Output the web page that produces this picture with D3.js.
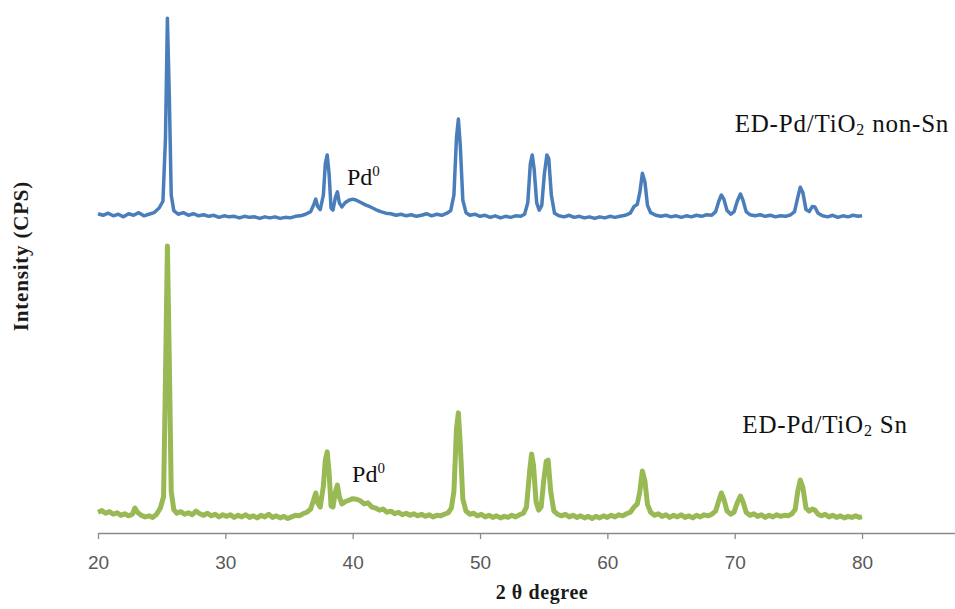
<!DOCTYPE html>
<html>
<head>
<meta charset="utf-8">
<script src="https://cdn.jsdelivr.net/npm/d3@7/dist/d3.min.js"></script>
<style>
  body { margin: 0; background: #ffffff; }
  svg { display: block; }
</style>
</head>
<body>
<div id="wrapper"></div>
<script>
// 2-theta ticks on the bottom axis
const tickValues = [20, 30, 40, 50, 60, 70, 80];

// [2 theta, intensity] (non-Sn)
const nonSnScan = [
  [20.0, 34], [20.4, 31], [20.8, 35], [21.2, 30], [21.6, 33], [22.0, 28], [22.4, 34], [22.8, 31],
  [23.2, 36], [23.6, 30], [24.0, 33], [24.4, 36], [24.8, 45], [25.1, 58], [25.3, 180], [25.45, 410],
  [25.6, 260], [25.75, 70], [25.95, 40], [26.3, 33], [26.7, 36], [27.1, 31], [27.5, 34], [27.9, 30],
  [28.3, 32], [28.7, 29], [29.1, 31], [29.5, 27], [29.9, 30], [30.3, 28], [30.7, 29], [31.1, 26],
  [31.5, 29], [31.9, 27], [32.3, 28], [32.7, 25], [33.1, 28], [33.5, 26], [33.9, 28], [34.3, 25],
  [34.7, 27], [35.1, 26], [35.5, 29], [35.9, 30], [36.3, 33], [36.7, 38], [36.95, 52], [37.1, 62],
  [37.25, 48], [37.45, 42], [37.7, 70], [37.85, 130], [38.0, 147], [38.15, 110], [38.3, 45], [38.45, 41],
  [38.65, 66], [38.8, 76], [38.95, 55], [39.15, 47], [39.4, 55], [39.7, 60], [40.0, 62], [40.3, 60],
  [40.6, 56], [41.0, 51], [41.4, 47], [41.8, 42], [42.2, 38], [42.6, 35], [43.0, 34], [43.4, 31],
  [43.8, 33], [44.2, 30], [44.6, 32], [45.0, 29], [45.4, 31], [45.8, 34], [46.2, 30], [46.6, 33],
  [47.0, 31], [47.4, 35], [47.7, 40], [47.95, 70], [48.15, 180], [48.3, 216], [48.45, 165], [48.65, 60],
  [48.9, 36], [49.2, 31], [49.6, 33], [50.0, 29], [50.4, 31], [50.8, 27], [51.2, 30], [51.6, 26],
  [52.0, 29], [52.4, 27], [52.8, 30], [53.2, 29], [53.5, 33], [53.75, 55], [53.95, 130], [54.1, 147],
  [54.25, 120], [54.45, 55], [54.65, 41], [54.85, 50], [55.05, 110], [55.25, 147], [55.4, 140], [55.6, 70],
  [55.85, 35], [56.2, 30], [56.6, 28], [57.0, 31], [57.4, 27], [57.8, 29], [58.2, 26], [58.6, 28],
  [59.0, 25], [59.4, 28], [59.8, 26], [60.2, 29], [60.6, 27], [61.0, 29], [61.4, 31], [61.8, 35],
  [62.1, 48], [62.35, 52], [62.55, 75], [62.75, 112], [62.95, 95], [63.15, 50], [63.4, 36], [63.8, 31],
  [64.2, 29], [64.6, 31], [65.0, 28], [65.4, 30], [65.8, 27], [66.2, 30], [66.6, 28], [67.0, 31],
  [67.4, 29], [67.8, 32], [68.2, 31], [68.5, 38], [68.75, 58], [68.95, 70], [69.15, 62], [69.4, 40],
  [69.7, 33], [69.95, 38], [70.2, 58], [70.45, 72], [70.65, 60], [70.9, 38], [71.2, 32], [71.6, 30],
  [72.0, 32], [72.4, 29], [72.8, 31], [73.2, 28], [73.6, 30], [74.0, 29], [74.4, 32], [74.7, 38],
  [74.95, 65], [75.15, 85], [75.35, 75], [75.6, 42], [75.85, 38], [76.1, 48], [76.3, 47], [76.55, 35],
  [76.9, 30], [77.3, 28], [77.7, 31], [78.1, 27], [78.5, 30], [78.9, 28], [79.3, 31], [79.7, 29],
  [80.0, 30]
];

// [2 theta, intensity] (Sn)
const snScan = [
  [20.0, 40], [20.3, 43], [20.6, 38], [20.9, 41], [21.2, 36], [21.5, 39], [21.8, 34], [22.1, 37],
  [22.4, 33], [22.7, 36], [22.9, 48], [23.1, 40], [23.4, 34], [23.7, 31], [24.0, 33], [24.3, 30],
  [24.6, 36], [24.9, 48], [25.15, 70], [25.3, 300], [25.45, 552], [25.6, 330], [25.75, 80], [25.95, 45],
  [26.2, 38], [26.5, 41], [26.8, 36], [27.1, 39], [27.4, 35], [27.7, 42], [28.0, 37], [28.3, 34],
  [28.6, 38], [28.9, 33], [29.2, 36], [29.5, 31], [29.8, 35], [30.1, 32], [30.4, 35], [30.7, 30],
  [31.0, 34], [31.3, 31], [31.6, 35], [31.9, 30], [32.2, 33], [32.5, 29], [32.8, 34], [33.1, 31],
  [33.4, 36], [33.7, 30], [34.0, 33], [34.3, 29], [34.6, 32], [34.9, 28], [35.2, 31], [35.5, 34],
  [35.8, 33], [36.1, 37], [36.4, 40], [36.7, 46], [36.95, 65], [37.1, 77], [37.25, 58], [37.45, 50],
  [37.7, 90], [37.85, 140], [38.0, 156], [38.15, 115], [38.3, 52], [38.45, 50], [38.65, 80], [38.8, 92],
  [38.95, 70], [39.15, 56], [39.4, 60], [39.7, 63], [40.0, 66], [40.3, 65], [40.6, 62], [40.9, 56],
  [41.2, 58], [41.5, 50], [41.8, 48], [42.1, 44], [42.4, 46], [42.7, 40], [43.0, 42], [43.3, 37],
  [43.6, 40], [43.9, 35], [44.2, 38], [44.5, 34], [44.8, 37], [45.1, 33], [45.4, 36], [45.7, 32],
  [46.0, 35], [46.3, 31], [46.6, 34], [46.9, 33], [47.2, 36], [47.5, 39], [47.75, 48], [47.95, 80],
  [48.15, 200], [48.3, 231], [48.45, 170], [48.65, 65], [48.9, 42], [49.2, 36], [49.5, 38], [49.8, 33],
  [50.1, 36], [50.4, 31], [50.7, 34], [51.0, 30], [51.3, 33], [51.6, 29], [51.9, 32], [52.2, 30],
  [52.5, 34], [52.8, 31], [53.1, 35], [53.4, 38], [53.65, 50], [53.9, 120], [54.05, 152], [54.2, 130],
  [54.4, 60], [54.6, 44], [54.8, 50], [55.0, 100], [55.2, 138], [55.35, 140], [55.55, 80], [55.8, 42],
  [56.1, 36], [56.4, 33], [56.7, 36], [57.0, 31], [57.3, 34], [57.6, 30], [57.9, 33], [58.2, 29],
  [58.5, 32], [58.8, 28], [59.1, 32], [59.4, 29], [59.7, 33], [60.0, 30], [60.3, 34], [60.6, 31],
  [60.9, 35], [61.2, 33], [61.5, 37], [61.8, 40], [62.1, 50], [62.35, 56], [62.55, 80], [62.75, 119],
  [62.95, 100], [63.15, 55], [63.4, 40], [63.7, 34], [64.0, 37], [64.3, 32], [64.6, 35], [64.9, 30],
  [65.2, 34], [65.5, 31], [65.8, 35], [66.1, 30], [66.4, 33], [66.7, 29], [67.0, 34], [67.3, 31],
  [67.6, 35], [67.9, 33], [68.2, 36], [68.5, 42], [68.75, 62], [68.95, 77], [69.15, 65], [69.4, 42],
  [69.7, 36], [69.95, 40], [70.2, 58], [70.45, 71], [70.65, 60], [70.9, 40], [71.2, 34], [71.5, 37],
  [71.8, 32], [72.1, 35], [72.4, 30], [72.7, 34], [73.0, 31], [73.3, 35], [73.6, 32], [73.9, 34],
  [74.2, 33], [74.5, 37], [74.75, 45], [74.95, 80], [75.15, 102], [75.35, 88], [75.6, 48], [75.85, 42],
  [76.1, 46], [76.3, 44], [76.55, 36], [76.8, 33], [77.1, 36], [77.4, 31], [77.7, 34], [78.0, 30],
  [78.3, 33], [78.6, 29], [78.9, 32], [79.2, 30], [79.5, 33], [79.8, 30], [80.0, 31]
];

// the non-Sn pattern is stacked above the Sn one
const nonSnOffset = 580;

// annotations: [2 theta, intensity] anchors (offset already applied where stacked)
const seriesNames = ["non-Sn", "Sn"];
const seriesLabelAt = [[70.0, 771], [70.6, 192]];
const pdLabelAt = [[39.55, 669], [39.95, 98]];

function buildPlot() {
    const xAccessor = (d) => d[0];
    const yAccessor = (d) => d[1];

    const dimension = {
        width: 955,
        height: 609,
        margin: { top: 13, left: 98, bottom: 76, right: 0 }
    };
    dimension.boundedHeight = dimension.height - dimension.margin.top - dimension.margin.bottom;

    const svg = d3.select("#wrapper").append("svg")
        .attr("width", dimension.width)
        .attr("height", dimension.height);

    svg.append("rect")
        .attr("width", dimension.width)
        .attr("height", dimension.height)
        .attr("fill", "#ffffff");

    // axis runs past 80 to the right edge, like the Excel original
    const xScaler = d3.scaleLinear()
        .domain([20, 87.3])
        .range([dimension.margin.left, dimension.width - dimension.margin.right]);

    const yScaler = d3.scaleLinear()
        .domain([0, 1000])
        .range([dimension.margin.top + dimension.boundedHeight, dimension.margin.top]);

    const lineNonSn = d3.line()
        .x(d => xScaler(xAccessor(d)))
        .y(d => yScaler(yAccessor(d) + nonSnOffset));

    const lineSn = d3.line()
        .x(d => xScaler(xAccessor(d)))
        .y(d => yScaler(yAccessor(d)));

    // x axis
    const xAxis = d3.axisBottom(xScaler)
        .tickValues(tickValues)
        .tickSizeInner(6)
        .tickSizeOuter(0)
        .tickPadding(17);

    const axisG = svg.append("g")
        .attr("transform", `translate(0, ${yScaler(0)})`)
        .call(xAxis);
    axisG.select(".domain").attr("stroke", "#8a8a8a").attr("stroke-width", 1.3);
    axisG.selectAll(".tick line").attr("stroke", "#8a8a8a").attr("stroke-width", 1.3);
    axisG.selectAll(".tick text")
        .attr("fill", "#595959")
        .style("font-family", "'Liberation Sans', Arial, sans-serif")
        .style("font-size", "19px");

    // traces
    svg.append("path")
        .attr("d", lineSn(snScan))
        .attr("fill", "none")
        .attr("stroke", "#98b954")
        .attr("stroke-width", 5)
        .attr("stroke-linejoin", "round");

    svg.append("path")
        .attr("d", lineNonSn(nonSnScan))
        .attr("fill", "none")
        .attr("stroke", "#4a7ebb")
        .attr("stroke-width", 3.5)
        .attr("stroke-linejoin", "round");

    const serif = "'Liberation Serif', 'Times New Roman', serif";

    // axis titles
    svg.append("text")
        .attr("x", 542)
        .attr("y", 599)
        .attr("text-anchor", "middle")
        .style("font-family", serif)
        .style("font-weight", "bold")
        .style("font-size", "20px")
        .style("letter-spacing", "0.6px")
        .attr("fill", "#1a1a1a")
        .text("2 θ degree");

    svg.append("text")
        .attr("transform", "translate(28, 256) rotate(-90)")
        .attr("text-anchor", "middle")
        .style("font-family", serif)
        .style("font-weight", "bold")
        .style("font-size", "21px")
        .style("letter-spacing", "0.8px")
        .attr("fill", "#1a1a1a")
        .text("Intensity (CPS)");

    // series labels with subscript 2
    seriesNames.forEach((name, i) => {
        const t = svg.append("text")
            .attr("x", xScaler(seriesLabelAt[i][0]))
            .attr("y", yScaler(seriesLabelAt[i][1]))
            .style("font-family", serif)
            .style("font-size", "25px")
            .style("letter-spacing", "0.8px")
            .attr("fill", "#111111");
        t.append("tspan").text("ED-Pd/TiO");
        t.append("tspan").attr("dy", 3).style("font-size", "16px").text("2");
        t.append("tspan").attr("dy", -3).text(" " + name);
    });

    // Pd0 markers
    pdLabelAt.forEach((p) => {
        const t = svg.append("text")
            .attr("x", xScaler(p[0]))
            .attr("y", yScaler(p[1]))
            .style("font-family", serif)
            .style("font-size", "24px")
            .attr("fill", "#111111");
        t.append("tspan").text("Pd");
        t.append("tspan").attr("dy", -9).style("font-size", "15px").text("0");
    });
}

buildPlot();
</script>
</body>
</html>
